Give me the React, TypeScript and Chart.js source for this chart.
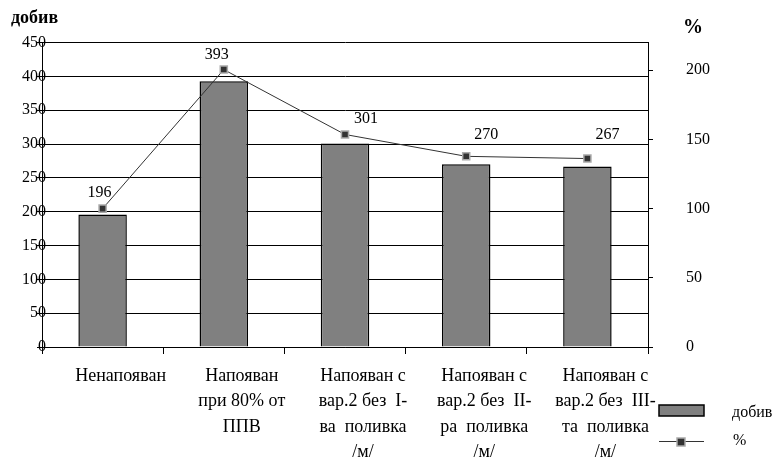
import React, { useEffect, useRef } from "react";
import { Chart, registerables } from "chart.js";

Chart.register(...registerables);

const categories: string[][] = [
  ["Ненапояван"],
  ["Напояван", "при 80% от", "ППВ"],
  ["Напояван с", "вар.2 без  I-", "ва  поливка", "/м/"],
  ["Напояван с", "вар.2 без  II-", "ра  поливка", "/м/"],
  ["Напояван с", "вар.2 без  III-", "та  поливка", "/м/"],
];
const yieldValues = [196, 393, 301, 270, 267];
const percentValues = [100, 200.5, 153.6, 137.8, 136.2];
const leftTitle = "добив";
const rightTitle = "%";
const seriesNames = ["добив", "%"];

const FONT = "'Liberation Serif', 'Times New Roman', serif";
const labelOffsets = [
  [-3, -16],
  [-7, -15],
  [21, -16],
  [20, -22],
  [20, -24],
];

const overlayPlugin = {
  id: "overlay",
  afterDraw(chart: any) {
    const ctx = chart.ctx;
    ctx.save();
    ctx.fillStyle = "#000";
    // axis titles
    ctx.font = `bold 18px ${FONT}`;
    ctx.textAlign = "left";
    ctx.textBaseline = "alphabetic";
    ctx.fillText(leftTitle, 11, 23);
    ctx.font = `bold 20px ${FONT}`;
    ctx.fillText(rightTitle, 683, 33);

    // left tick labels (overlapping the axis line, as in the original)
    const ys = chart.scales.y;
    ctx.font = `16px ${FONT}`;
    ctx.textAlign = "right";
    ctx.textBaseline = "middle";
    ys.ticks.forEach((t: any) => {
      ctx.fillText(String(t.value), 46, ys.getPixelForValue(t.value));
    });

    // data labels
    const meta = chart.getDatasetMeta(1);
    ctx.textAlign = "center";
    meta.data.forEach((pt: any, i: number) => {
      const off = labelOffsets[i] || [0, -16];
      ctx.fillText(String(yieldValues[i]), pt.x + off[0], pt.y + off[1]);
    });

    // legend
    ctx.fillStyle = "#808080";
    ctx.fillRect(659, 405, 45, 11);
    ctx.strokeStyle = "#000";
    ctx.lineWidth = 1.5;
    ctx.strokeRect(659, 405, 45, 11);
    ctx.beginPath();
    ctx.strokeStyle = "#333";
    ctx.lineWidth = 1;
    ctx.moveTo(659, 441.5);
    ctx.lineTo(704, 441.5);
    ctx.stroke();
    ctx.fillStyle = "#333";
    ctx.fillRect(677, 438, 8, 8);
    ctx.strokeStyle = "#aaa";
    ctx.lineWidth = 1.5;
    ctx.strokeRect(677, 438, 8, 8);
    ctx.fillStyle = "#000";
    ctx.font = `16px ${FONT}`;
    ctx.textAlign = "left";
    ctx.textBaseline = "middle";
    ctx.fillText(seriesNames[0], 732, 413);
    ctx.fillText(seriesNames[1], 733, 441);
    ctx.restore();
  },
};

export default function App() {
  const ref = useRef<HTMLCanvasElement>(null);
  useEffect(() => {
    if (!ref.current) return;
    const chart = new Chart(ref.current, {
      type: "bar",
      data: {
        labels: categories,
        datasets: [
          {
            type: "bar",
            label: seriesNames[0],
            data: yieldValues,
            yAxisID: "y",
            backgroundColor: "#808080",
            borderColor: "#000",
            borderWidth: 1.5,
            barPercentage: 0.4,
            categoryPercentage: 1,
            order: 2,
          },
          {
            type: "line",
            label: seriesNames[1],
            data: percentValues,
            yAxisID: "y1",
            borderColor: "#333",
            borderWidth: 1,
            pointStyle: "rect",
            pointRadius: 5,
            pointBackgroundColor: "#333",
            pointBorderColor: "#aaa",
            pointBorderWidth: 1.5,
            tension: 0,
            order: 1,
          },
        ],
      },
      options: {
        responsive: false,
        animation: false,
        layout: { padding: { left: 0, right: 0, top: 41, bottom: 0 } },
        plugins: { legend: { display: false }, tooltip: { enabled: false } },
        scales: {
          x: {
            offset: true,
            grid: {
              display: true,
              offset: true,
              drawOnChartArea: false,
              drawTicks: true,
              tickLength: 7,
              color: "#000",
            },
            border: { display: true, color: "#000", width: 1 },
            ticks: {
              autoSkip: false,
              maxRotation: 0,
              minRotation: 0,
              padding: 9,
              labelOffset: 18,
              color: "#000",
              font: { family: FONT, size: 18, lineHeight: 1.42 },
            },
            afterFit: (s: any) => {
              s.height = 110;
            },
          },
          y: {
            position: "left",
            min: 0,
            max: 450,
            ticks: {
              stepSize: 50,
              display: false,
            },
            grid: {
              color: "#000",
              lineWidth: 1,
              drawTicks: true,
              tickLength: 5,
              tickColor: "#000",
            },
            border: { display: true, color: "#000", width: 1 },
            afterFit: (s: any) => {
              s.width = 42;
            },
          },
          y1: {
            position: "right",
            min: 0,
            max: 220,
            ticks: {
              stepSize: 50,
              padding: 33,
              color: "#000",
              font: { family: FONT, size: 16 },
            },
            afterBuildTicks: (s: any) => {
              s.ticks = s.ticks.filter((t: any) => t.value % 50 === 0);
            },
            grid: {
              drawOnChartArea: false,
              drawTicks: true,
              tickLength: 5,
              color: "#000",
            },
            border: { display: true, color: "#000", width: 1 },
            afterFit: (s: any) => {
              s.width = 134;
            },
          },
        },
      } as any,
      plugins: [overlayPlugin],
    });
    return () => chart.destroy();
  }, []);
  return (
    <div style={{ position: "absolute", left: 0, top: 0, width: 782, height: 457, background: "#fff" }}>
      <canvas ref={ref} width={782} height={457} style={{ display: "block" }} />
    </div>
  );
}
